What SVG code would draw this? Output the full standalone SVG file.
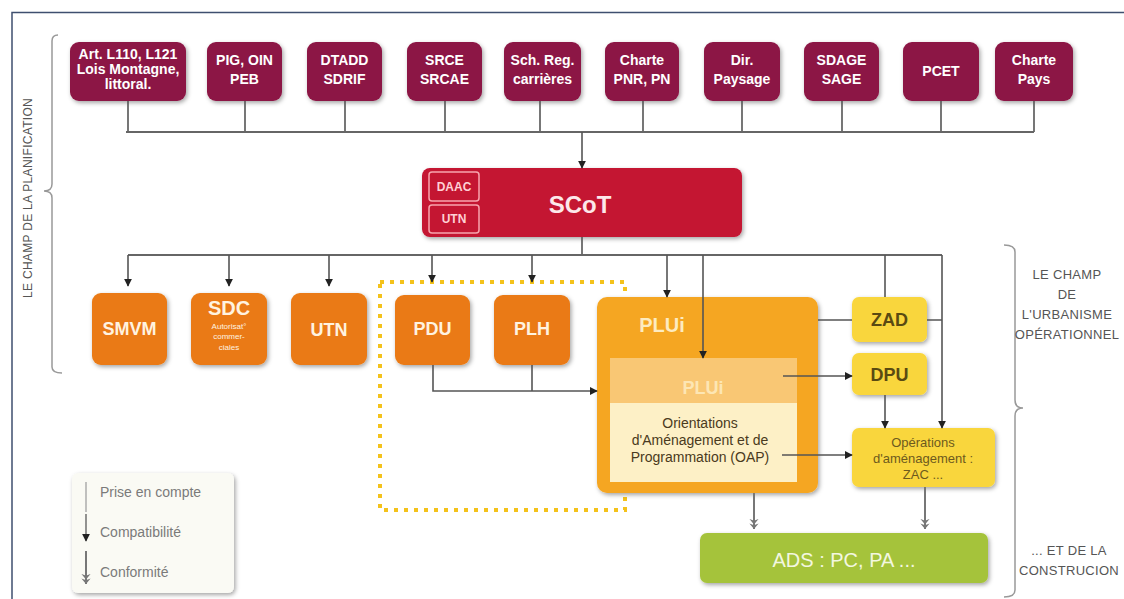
<svg xmlns="http://www.w3.org/2000/svg" width="1124" height="599" viewBox="0 0 1124 599">
<defs>
<filter id="sh" x="-20%" y="-20%" width="140%" height="150%">
<feDropShadow dx="1.5" dy="2" stdDeviation="2" flood-color="#000" flood-opacity="0.35"/>
</filter>
<marker id="ac" viewBox="0 0 10 10" refX="9" refY="5" markerWidth="8" markerHeight="8" markerUnits="userSpaceOnUse" orient="auto">
<path d="M0,0 L10,5 L0,10 z" fill="#222"/>
</marker>
<marker id="cf" viewBox="0 0 12 12" refX="11" refY="6" markerWidth="11" markerHeight="11" markerUnits="userSpaceOnUse" orient="auto">
<path d="M0,1 L6,6 L0,11 L2,6 z M5,1 L11,6 L5,11 L7,6 z" fill="#777"/>
</marker>
<style>
text{font-family:"Liberation Sans",Arial,sans-serif;text-anchor:middle}
.top rect{fill:#8c1444;filter:url(#sh)}
.top text{fill:#fff;font-weight:bold;font-size:14px}
.or rect{fill:#ea7a14;filter:url(#sh)}
.or text{fill:#fff3e0;font-weight:bold;font-size:18px}
.ye rect{fill:#f9d63c;filter:url(#sh)}
.ye text{fill:#5a4a12;font-weight:bold;font-size:18px}
.ln{fill:none;stroke:#555;stroke-width:1.6}
.bus{fill:none;stroke:#666;stroke-width:2}
.cfl{fill:none;stroke:#777;stroke-width:2}
.side{fill:#555;font-size:13px;letter-spacing:0.3px}
.brace{fill:none;stroke:#999;stroke-width:1.5}
.leg{fill:#7a7a7a;font-size:14px;text-anchor:start}
</style>
</defs>
<rect x="0" y="0" width="1124" height="599" fill="#fff"/>
<path d="M12,599 V12.5 H1124" fill="none" stroke="#3f4f6f" stroke-width="1.5"/>

<!-- side labels and braces -->
<g id="label-planif">
<path class="brace" d="M58,35 Q52,35 52,41 L52,184 Q52,191 44,191 Q52,191 52,198 L52,367 Q52,373 62,373"/>
<text class="side" transform="translate(32,198) rotate(-90)" style="font-size:12px">LE CHAMP DE LA PLANIFICATION</text>
</g>
<g id="label-urba">
<path class="brace" d="M1004,245 Q1015,245 1015,252 L1015,400 Q1015,408 1023,408 Q1015,408 1015,416 L1015,590 Q1015,597 1004,597"/>
<text class="side" x="1067" y="279">LE CHAMP</text>
<text class="side" x="1067" y="299">DE</text>
<text class="side" x="1067" y="319">L'URBANISME</text>
<text class="side" x="1067" y="339">OPÉRATIONNEL</text>
<text class="side" x="1069" y="555">... ET DE LA</text>
<text class="side" x="1069" y="575">CONSTRUCION</text>
</g>

<!-- top row -->
<g class="top">
<g id="n-art"><rect x="70" y="42" width="116" height="59" rx="9"/><text x="128" y="59">Art. L110, L121</text><text x="128" y="74">Lois Montagne,</text><text x="128" y="89">littoral.</text></g>
<g id="n-pig"><rect x="207" y="42" width="75" height="59" rx="9"/><text x="244.5" y="65">PIG, OIN</text><text x="244.5" y="84">PEB</text></g>
<g id="n-dtadd"><rect x="307" y="42" width="75" height="59" rx="9"/><text x="344.5" y="65">DTADD</text><text x="344.5" y="84">SDRIF</text></g>
<g id="n-srce"><rect x="407" y="42" width="75" height="59" rx="9"/><text x="444.5" y="65">SRCE</text><text x="444.5" y="84">SRCAE</text></g>
<g id="n-sch"><rect x="504" y="42" width="77" height="59" rx="9"/><text x="542.5" y="65">Sch. Reg.</text><text x="542.5" y="84">carrières</text></g>
<g id="n-pnr"><rect x="605" y="42" width="74" height="59" rx="9"/><text x="642" y="65">Charte</text><text x="642" y="84">PNR, PN</text></g>
<g id="n-dir"><rect x="704" y="42" width="76" height="59" rx="9"/><text x="742" y="65">Dir.</text><text x="742" y="84">Paysage</text></g>
<g id="n-sdage"><rect x="804" y="42" width="75" height="59" rx="9"/><text x="841.5" y="65">SDAGE</text><text x="841.5" y="84">SAGE</text></g>
<g id="n-pcet"><rect x="903" y="42" width="76" height="59" rx="9"/><text x="941" y="76">PCET</text></g>
<g id="n-pays"><rect x="995" y="42" width="78" height="59" rx="9"/><text x="1034" y="65">Charte</text><text x="1034" y="84">Pays</text></g>
</g>

<!-- SCoT -->
<g id="n-scot">
<rect x="422" y="168" width="320" height="69" rx="8" fill="#c41230" filter="url(#sh)"/>
<rect x="429" y="172" width="50" height="29" rx="3" fill="none" stroke="#f7a5ae" stroke-width="1.5"/>
<rect x="429" y="205" width="50" height="28" rx="3" fill="none" stroke="#f7a5ae" stroke-width="1.5"/>
<text x="454" y="191" fill="#ffd0d5" font-size="12" font-weight="bold">DAAC</text>
<text x="454" y="223" fill="#ffd0d5" font-size="12" font-weight="bold">UTN</text>
<text x="580" y="213" fill="#fde8ea" font-size="24" font-weight="bold">SCoT</text>
</g>

<!-- dotted area -->
<rect id="dotted" x="380" y="282" width="245" height="228" fill="none" stroke="#f4c21b" stroke-width="4" stroke-dasharray="4,6"/>

<!-- orange row -->
<g class="or">
<g id="n-smvm"><rect x="92" y="293" width="75" height="72" rx="9"/><text x="129.5" y="335">SMVM</text></g>
<g id="n-sdc"><rect x="191" y="293" width="76" height="72" rx="9"/><text x="229" y="315" style="font-size:20px">SDC</text>
<text x="229" y="329" style="font-size:8px;font-weight:normal">Autorisat°</text><text x="229" y="339" style="font-size:8px;font-weight:normal">commer-</text><text x="229" y="350" style="font-size:8px;font-weight:normal">ciales</text></g>
<g id="n-utn"><rect x="291" y="293" width="76" height="72" rx="9"/><text x="329" y="336">UTN</text></g>
<g id="n-pdu"><rect x="395" y="295" width="75" height="70" rx="9"/><text x="432.5" y="335">PDU</text></g>
<g id="n-plh"><rect x="494" y="295" width="76" height="70" rx="9"/><text x="532" y="335">PLH</text></g>
</g>

<!-- PLUi -->
<g id="n-plui">
<rect x="597" y="297" width="221" height="196" rx="10" fill="#f5a623" filter="url(#sh)"/>
<text x="662" y="332" fill="#fdebc0" font-size="20" font-weight="bold">PLUi</text>
<g id="n-plu">
<rect x="610" y="358" width="187" height="45" fill="#f9c774"/>
<text x="703" y="394" fill="#fde6b4" font-size="18" font-weight="bold">PLUi</text>
</g>
<g id="n-oap">
<rect x="610" y="403" width="187" height="79" fill="#fdf0c6"/>
<text x="700" y="428" fill="#4a3a20" font-size="14">Orientations</text>
<text x="700" y="445" fill="#4a3a20" font-size="14">d'Aménagement et de</text>
<text x="700" y="462" fill="#4a3a20" font-size="14">Programmation (OAP)</text>
</g>
</g>

<!-- yellow -->
<g class="ye">
<g id="n-zad"><rect x="852" y="297" width="75" height="45" rx="7"/><text x="889.5" y="326">ZAD</text></g>
<g id="n-dpu"><rect x="852" y="353" width="75" height="42" rx="7"/><text x="889.5" y="381">DPU</text></g>
<g id="n-ops"><rect x="852" y="428" width="143" height="59" rx="7"/>
<text x="923" y="447" style="font-size:13px;font-weight:normal;fill:#6d5a1e">Opérations</text>
<text x="923" y="463" style="font-size:13px;font-weight:normal;fill:#6d5a1e">d'aménagement :</text>
<text x="923" y="479" style="font-size:13px;font-weight:normal;fill:#6d5a1e">ZAC ...</text></g>
</g>

<g id="n-ads">
<rect x="700" y="533" width="288" height="50" rx="7" fill="#a5c33b" filter="url(#sh)"/>
<text x="844" y="567" fill="#f3f7e0" font-size="20">ADS : PC, PA ...</text>
</g>

<!-- legend -->
<g id="legend">
<rect x="72" y="473" width="162" height="120" rx="6" fill="#fafaf4" filter="url(#sh)"/>
<line x1="86" y1="482" x2="86" y2="512" stroke="#999" stroke-width="1.2"/>
<line x1="86" y1="514" x2="86" y2="541" stroke="#666" stroke-width="1.4" marker-end="url(#ac)"/>
<line x1="86" y1="551" x2="86" y2="584" class="cfl" marker-end="url(#cf)"/>
<text class="leg" x="100" y="497">Prise en compte</text>
<text class="leg" x="100" y="537">Compatibilité</text>
<text class="leg" x="100" y="577">Conformité</text>
</g>

<!-- connectors -->
<g id="connectors">
<path class="ln" d="M128,101V132 M245,101V132 M345,101V132 M445,101V132 M540,101V132 M643,101V132 M742,101V132 M842,101V132 M941,101V132 M1034,101V132"/>
<path class="bus" d="M126,132H1034"/>
<path class="ln" d="M582,132V168" marker-end="url(#ac)"/>
<path class="ln" d="M582,237V255"/>
<path class="bus" d="M128,255H942"/>
<path class="ln" d="M128,255V286" marker-end="url(#ac)"/>
<path class="ln" d="M229,255V286" marker-end="url(#ac)"/>
<path class="ln" d="M329,255V286" marker-end="url(#ac)"/>
<path class="ln" d="M432,255V282" marker-end="url(#ac)"/>
<path class="ln" d="M532,255V282" marker-end="url(#ac)"/>
<path class="ln" d="M667,255V297" stroke-width="2.6" marker-end="url(#ac)"/>
<path class="ln" d="M703,255V358" stroke-width="1.2" marker-end="url(#ac)"/>
<path class="ln" d="M885,255V297" stroke-width="1.2"/>
<path class="ln" d="M942,255V428" stroke-width="1.2" marker-end="url(#ac)"/>
<path class="ln" d="M818,320H852 M927,320H942" stroke-width="1.2"/>
<path class="ln" d="M433,365V391H597" stroke-width="1.2" marker-end="url(#ac)"/>
<path class="ln" d="M532,365V391" stroke-width="1.2"/>
<path class="ln" d="M783,376H852" marker-end="url(#ac)"/>
<path class="ln" d="M885,395V428" stroke-width="1.2" marker-end="url(#ac)"/>
<path class="ln" d="M782,455H852" stroke-width="1.2" marker-end="url(#ac)"/>
<path class="cfl" d="M754,493V529" marker-end="url(#cf)"/>
<path class="cfl" d="M925,487V529" marker-end="url(#cf)"/>
</g>
</svg>
